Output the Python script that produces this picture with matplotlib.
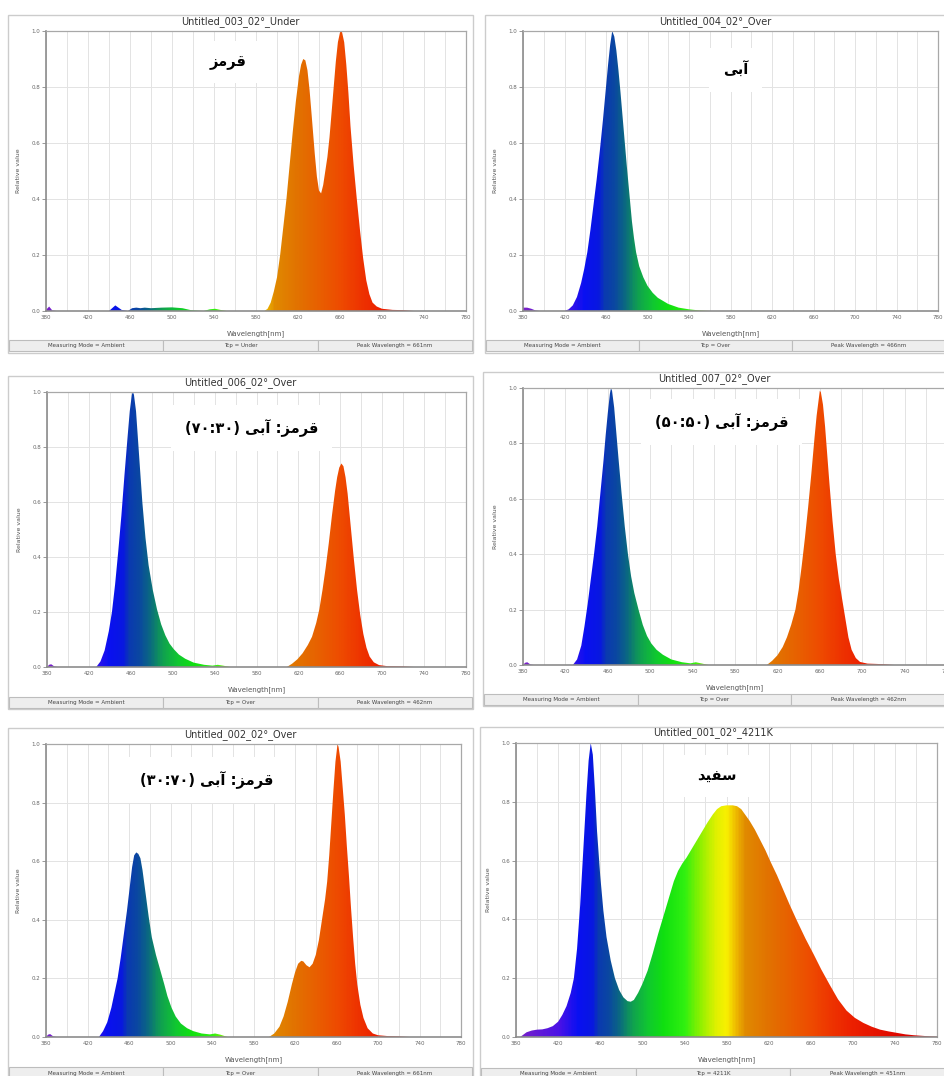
import re
import numpy as np
import matplotlib
matplotlib.use('Agg')
import matplotlib.pyplot as plt
from matplotlib.colors import LinearSegmentedColormap
from matplotlib.patches import Rectangle

W, H = 944, 1076

# --- spectra (wavelength nm, relative value) ---
red_wl = [380, 383, 386, 390, 440, 446, 452, 458, 462, 466, 470, 474, 480, 490, 500, 510,
          518, 530, 536, 541, 546, 552, 588, 591, 594, 597, 600, 603, 606, 609, 612, 615,
          618, 621, 623, 625, 627, 629, 631, 633, 636, 638, 640, 642, 644, 646, 648, 650,
          652, 654, 656, 658, 660, 661, 662, 664, 666, 668, 670, 673, 676, 679, 682, 685,
          688, 691, 695, 700, 710, 720, 730, 780]
red_val = [0.004, 0.016, 0.002, 0.0, 0.0, 0.02, 0.004, 0.0, 0.01, 0.012, 0.01, 0.012, 0.01, 0.012, 0.013, 0.01,
           0.003, 0.0, 0.006, 0.008, 0.004, 0.0, 0.0, 0.008, 0.03, 0.07, 0.12, 0.2, 0.3, 0.4, 0.52, 0.64,
           0.75, 0.84, 0.88, 0.9, 0.895, 0.86, 0.79, 0.7, 0.56, 0.48, 0.43, 0.42, 0.45, 0.5, 0.55, 0.62,
           0.71, 0.8, 0.89, 0.96, 0.995, 1.0, 0.995, 0.96, 0.88, 0.78, 0.66, 0.52, 0.4, 0.29, 0.19, 0.11,
           0.06, 0.03, 0.016, 0.008, 0.004, 0.003, 0.0, 0.0]

blue_wl = [380, 384, 388, 392, 396, 420, 424, 428, 432, 436, 439, 442, 445, 448, 451, 454, 457,
           460, 462, 464, 466, 468, 470, 472, 474, 477, 480, 483, 485, 487, 489, 492, 496, 500,
           505, 510, 520, 530, 540, 550, 560, 780]
blue_val = [0.012, 0.012, 0.008, 0.002, 0.0, 0.0, 0.006, 0.02, 0.05, 0.1, 0.15, 0.21, 0.29, 0.38, 0.47, 0.57, 0.68,
            0.8, 0.88, 0.95, 1.0, 0.98, 0.93, 0.86, 0.78, 0.65, 0.52, 0.4, 0.32, 0.26, 0.21, 0.16, 0.12, 0.09,
            0.065, 0.047, 0.025, 0.012, 0.006, 0.002, 0.0, 0.0]

mix3070_wl = [380, 382, 384, 387, 390, 427, 431, 435, 439, 442, 445, 448, 451, 454, 457, 459, 461, 462,
              463, 465, 467, 469, 471, 474, 477, 481, 485, 489, 493, 497, 501, 506, 512, 520, 530,
              538, 543, 548, 555, 609, 614, 619, 624, 629, 633, 637, 640, 643, 646, 649, 652, 655,
              657, 659, 661, 663, 665, 667, 670, 673, 676, 679, 682, 685, 688, 692, 697, 705, 720,
              730, 780]
mix3070_val = [0.0, 0.008, 0.01, 0.002, 0.0, 0.0, 0.02, 0.06, 0.13, 0.2, 0.3, 0.42, 0.55, 0.7, 0.84, 0.93, 0.99, 1.0,
               0.99, 0.93, 0.82, 0.71, 0.6, 0.47, 0.37, 0.28, 0.21, 0.155, 0.115, 0.085, 0.065, 0.045, 0.03, 0.016, 0.008,
               0.005, 0.008, 0.005, 0.0, 0.0, 0.012, 0.028, 0.05, 0.08, 0.11, 0.16, 0.21, 0.28, 0.36, 0.45, 0.55, 0.64,
               0.69, 0.725, 0.74, 0.73, 0.69, 0.63, 0.51, 0.39, 0.28, 0.19, 0.12, 0.07, 0.038, 0.017, 0.007, 0.003, 0.002,
               0.0, 0.0]

mix5050_wl = [380, 382, 384, 387, 390, 427, 431, 435, 438, 441, 444, 447, 450, 453, 456, 458, 460, 462,
              463, 464, 466, 468, 470, 473, 476, 479, 482, 485, 489, 493, 497, 501, 506, 512, 520,
              530, 538, 543, 548, 555, 610, 615, 620, 625, 629, 633, 637, 640, 643, 646, 649, 652,
              655, 657, 659, 660, 661, 663, 665, 667, 669, 672, 675, 678, 681, 684, 687, 690, 694,
              698, 705, 720, 730, 780]
mix5050_val = [0.0, 0.008, 0.01, 0.002, 0.0, 0.0, 0.02, 0.07, 0.14, 0.22, 0.31, 0.4, 0.5, 0.62, 0.74, 0.83, 0.91, 0.98,
               1.0, 0.99, 0.93, 0.84, 0.75, 0.62, 0.5, 0.4, 0.32, 0.26, 0.2, 0.145, 0.105, 0.078, 0.055, 0.037, 0.02,
               0.01, 0.006, 0.01, 0.006, 0.0, 0.0, 0.015, 0.035, 0.065, 0.1, 0.145, 0.2, 0.27, 0.36, 0.46, 0.57, 0.69,
               0.82, 0.9, 0.96, 0.99, 0.985, 0.94, 0.86, 0.76, 0.66, 0.52, 0.4, 0.31, 0.24, 0.17, 0.1, 0.055, 0.025,
               0.011, 0.005, 0.003, 0.0, 0.0]

mix7030_wl = [380, 382, 384, 387, 390, 431, 435, 439, 443, 446, 449, 452, 455, 458, 461, 463, 465, 467,
              469, 471, 473, 476, 479, 482, 486, 490, 494, 497, 501, 505, 510, 516, 522, 530, 538,
              543, 548, 555, 595, 600, 605, 609, 613, 617, 620, 623, 626, 628, 631, 634, 637, 640,
              643, 646, 649, 651, 653, 655, 657, 659, 661, 662, 664, 666, 668, 670, 672, 674, 676,
              678, 680, 683, 686, 690, 695, 700, 710, 720, 730, 780]
mix7030_val = [0.0, 0.008, 0.01, 0.002, 0.0, 0.0, 0.02, 0.05, 0.1, 0.15, 0.2, 0.27, 0.35, 0.43, 0.52, 0.58, 0.62, 0.63,
               0.625, 0.61, 0.57, 0.49, 0.41, 0.34, 0.28, 0.23, 0.18, 0.14, 0.1, 0.07, 0.046, 0.03, 0.02, 0.012, 0.009,
               0.012, 0.008, 0.0, 0.0, 0.012, 0.035, 0.07, 0.12, 0.18, 0.22, 0.25, 0.26, 0.258, 0.245, 0.238, 0.25, 0.28,
               0.33, 0.4, 0.47, 0.53, 0.62, 0.73, 0.84, 0.94, 1.0, 0.99, 0.94, 0.85, 0.76, 0.65, 0.55, 0.44, 0.34,
               0.25, 0.18, 0.11, 0.065, 0.03, 0.012, 0.006, 0.003, 0.002, 0.0, 0.0]

white_wl = [380, 384, 387, 390, 395, 400, 405, 410, 415, 420, 424, 428, 432, 435, 438, 441, 444, 447,
            449, 451, 453, 455, 457, 460, 463, 466, 470, 474, 478, 482, 486, 489, 492, 496, 500,
            505, 510, 515, 520, 525, 530, 534, 538, 542, 547, 552, 557, 562, 567, 571, 575, 580,
            586, 590, 594, 598, 602, 607, 612, 617, 622, 628, 634, 640, 647, 655, 663, 670, 678,
            686, 694, 702, 710, 718, 726, 734, 742, 750, 758, 766, 774, 780]
white_val = [0.0, 0.0, 0.008, 0.016, 0.022, 0.025, 0.026, 0.03, 0.037, 0.052, 0.075, 0.105, 0.15, 0.2, 0.3, 0.45, 0.64, 0.83,
             0.94, 1.0, 0.96, 0.84, 0.7, 0.55, 0.43, 0.34, 0.26, 0.2, 0.16, 0.135, 0.122, 0.12, 0.126, 0.15, 0.18,
             0.225, 0.285, 0.35, 0.41, 0.47, 0.53, 0.565, 0.59, 0.61, 0.64, 0.67, 0.7, 0.73, 0.757, 0.775, 0.785, 0.788,
             0.788, 0.785, 0.775, 0.755, 0.735, 0.705, 0.67, 0.635, 0.595, 0.55, 0.5, 0.45, 0.395, 0.335, 0.28, 0.23, 0.178,
             0.128, 0.09, 0.065, 0.048, 0.035, 0.025, 0.019, 0.014, 0.009, 0.006, 0.004, 0.002, 0.001]

titles = ['Untitled_003_02°_Under', 'Untitled_004_02°_Over', 'Untitled_006_02°_Over',
          'Untitled_007_02°_Over', 'Untitled_002_02°_Over', 'Untitled_001_02°_4211K']
labels = ['قرمز', 'آبی', 'قرمز: آبی (۳۰:۷۰)', 'قرمز: آبی (۵۰:۵۰)', 'قرمز: آبی (۷۰:۳۰)', 'سفید']
tcp = ['Under', 'Over', 'Over', 'Over', 'Over', '4211K']
peaks = ['661nm', '466nm', '462nm', '462nm', '661nm', '451nm']
spectra = [(red_wl, red_val), (blue_wl, blue_val), (mix3070_wl, mix3070_val),
           (mix5050_wl, mix5050_val), (mix7030_wl, mix7030_val), (white_wl, white_val)]

# --- layout in screenshot pixels ---
# frame (x0, y0, x1, y1), axes (left, top, right, bottom), footer (y0, y1), title y, label pos (axes fraction)
layout = [
    ((8, 15, 473, 353), (46, 31, 466, 311), (340, 351), 22, (0.433, 0.889)),
    ((485, 15, 946, 353), (523, 31, 938, 311), (340, 351), 22, (0.513, 0.861)),
    ((8, 376, 473, 709), (47, 392, 466, 667), (697, 708), 383, (0.489, 0.869)),
    ((483, 372, 946, 706), (523, 388, 947, 665), (694, 705), 379, (0.469, 0.877)),
    ((8, 728, 473, 1080), (46, 744, 461, 1037), (1067, 1080), 735, (0.386, 0.877)),
    ((480, 727, 946, 1080), (516, 743, 937, 1037), (1068, 1080), 733, (0.477, 0.888)),
]

# spectrum palette of the meter software
spec_stops = [(380, '#7a22c8'), (420, '#4a12e6'), (438, '#0a10f2'), (452, '#0818e0'),
              (458, '#0a3ab0'), (468, '#0a48a0'), (478, '#0b6a80'), (490, '#10a050'),
              (505, '#10c830'), (520, '#10e010'), (540, '#30f010'), (555, '#90f000'),
              (570, '#e0f000'), (580, '#f8f000'), (588, '#f0c000'), (598, '#e08a00'),
              (620, '#e27200'), (640, '#e86000'), (660, '#ee4c00'), (680, '#ee3400'),
              (700, '#ec2000'), (740, '#e00a00'), (780, '#d00000')]
spec_cmap = LinearSegmentedColormap.from_list(
    'spec', [((w - 380) / 400, c) for w, c in spec_stops])

# Persian shaping: isolated, final, initial, medial (right-joining letters: isolated, final)
FORMS = {
    'ق': '\ufed5\ufed6\ufed7\ufed8', 'ر': '\ufead\ufeae', 'م': '\ufee1\ufee2\ufee3\ufee4',
    'ز': '\ufeaf\ufeb0', 'آ': '\ufe81\ufe82', 'ب': '\ufe8f\ufe90\ufe91\ufe92',
    'ی': '\ufbfc\ufbfd\ufbfe\ufbff', 'س': '\ufeb1\ufeb2\ufeb3\ufeb4',
    'ف': '\ufed1\ufed2\ufed3\ufed4', 'د': '\ufea9\ufeaa',
}


def persian(text):
    shaped = []
    for i, ch in enumerate(text):
        f = FORMS.get(ch)
        if f is None:
            shaped.append(ch)
            continue
        prev = FORMS.get(text[i - 1]) if i > 0 else None
        nxt = text[i + 1] if i + 1 < len(text) else ''
        idx = (1 if prev is not None and len(prev) == 4 else 0) + \
              (2 if len(f) == 4 and nxt in FORMS else 0)
        shaped.append(f[idx])
    runs = re.findall(r'[۰-۹]+|.', ''.join(shaped))
    mirror = {'(': ')', ')': '('}
    return ''.join(mirror.get(r, r) for r in reversed(runs))


def fig_rect(x0, y0, x1, y1, **kw):
    fig.add_artist(Rectangle((x0 / W, 1 - y1 / H), (x1 - x0) / W, (y1 - y0) / H,
                             transform=fig.transFigure, **kw))


fig = plt.figure(figsize=(W / 100, H / 100), dpi=100)
fig.patch.set_facecolor('white')

for i, (frame, box, foot, ty, lab_pos) in enumerate(layout):
    x0, y0, x1, y1 = frame
    fig_rect(x0, y0, x1, y1, fc='white', ec='#cccccc', lw=1.0, zorder=0)

    # footer status bar
    fy0, fy1 = foot
    cw = (x1 - x0 - 2) / 3
    cells = ['Measuring Mode = Ambient', 'Tcp = ' + tcp[i], 'Peak Wavelength = ' + peaks[i]]
    for k, txt in enumerate(cells):
        cx0 = x0 + 1 + k * cw
        fig_rect(cx0, fy0, cx0 + cw, fy1, fc='#eeeeee', ec='#bdbdbd', lw=0.8, zorder=1)
        fig.text((cx0 + cw / 2) / W, 1 - (fy0 + fy1) / 2 / H, txt, fontsize=4,
                 color='#444444', ha='center', va='center')

    fig.text((x0 + x1) / 2 / W, 1 - ty / H, titles[i], fontsize=7, color='#333333',
             ha='center', va='center')

    l, t, r, b = box
    ax = fig.add_axes([l / W, 1 - b / H, (r - l) / W, (b - t) / H])
    ax.set_xlim(380, 780)
    ax.set_ylim(0, 1.0)
    ax.set_xticks(range(380, 781, 40))
    ax.set_xticks(range(380, 781, 20), minor=True)
    ax.set_yticks(np.arange(0, 1.01, 0.2))
    ax.set_yticklabels(['0.0', '0.2', '0.4', '0.6', '0.8', '1.0'])
    ax.tick_params(axis='x', which='both', length=0, labelsize=4, labelcolor='#666666', pad=3)
    ax.tick_params(axis='y', length=3, width=0.6, color='#888888', labelsize=4,
                   labelcolor='#666666', pad=1)
    ax.set_axisbelow(True)
    ax.grid(axis='x', which='both', color='#e3e3e3', lw=0.7)
    ax.grid(axis='y', color='#e3e3e3', lw=0.7)
    for side, sp in ax.spines.items():
        sp.set_color('#8c8c8c' if side in ('left', 'bottom') else '#a8a8a8')
        sp.set_linewidth(1.2 if side in ('left', 'bottom') else 0.9)
        sp.set_zorder(3)
    ax.set_xlabel('Wavelength[nm]', fontsize=5, color='#555555', labelpad=7)
    ax.set_ylabel('Relative value', fontsize=4.5, color='#555555', labelpad=8)

    wl, val = spectra[i]
    poly = ax.fill_between(wl, 0, val, color='none', lw=0)
    img = ax.imshow(np.linspace(0, 1, 400)[np.newaxis, :], cmap=spec_cmap,
                    extent=[380, 780, 0, 1], aspect='auto', origin='lower', zorder=2,
                    interpolation='bilinear')
    img.set_clip_path(poly.get_paths()[0], transform=ax.transData)

    ax.text(lab_pos[0], lab_pos[1], persian(labels[i]), transform=ax.transAxes,
            fontsize=10.5, fontweight='bold', family=['DejaVu Sans'], color='black',
            ha='center', va='center', zorder=1.5,
            bbox=dict(facecolor='white', edgecolor='none', pad=10))

fig.savefig('out.png', dpi=100)
